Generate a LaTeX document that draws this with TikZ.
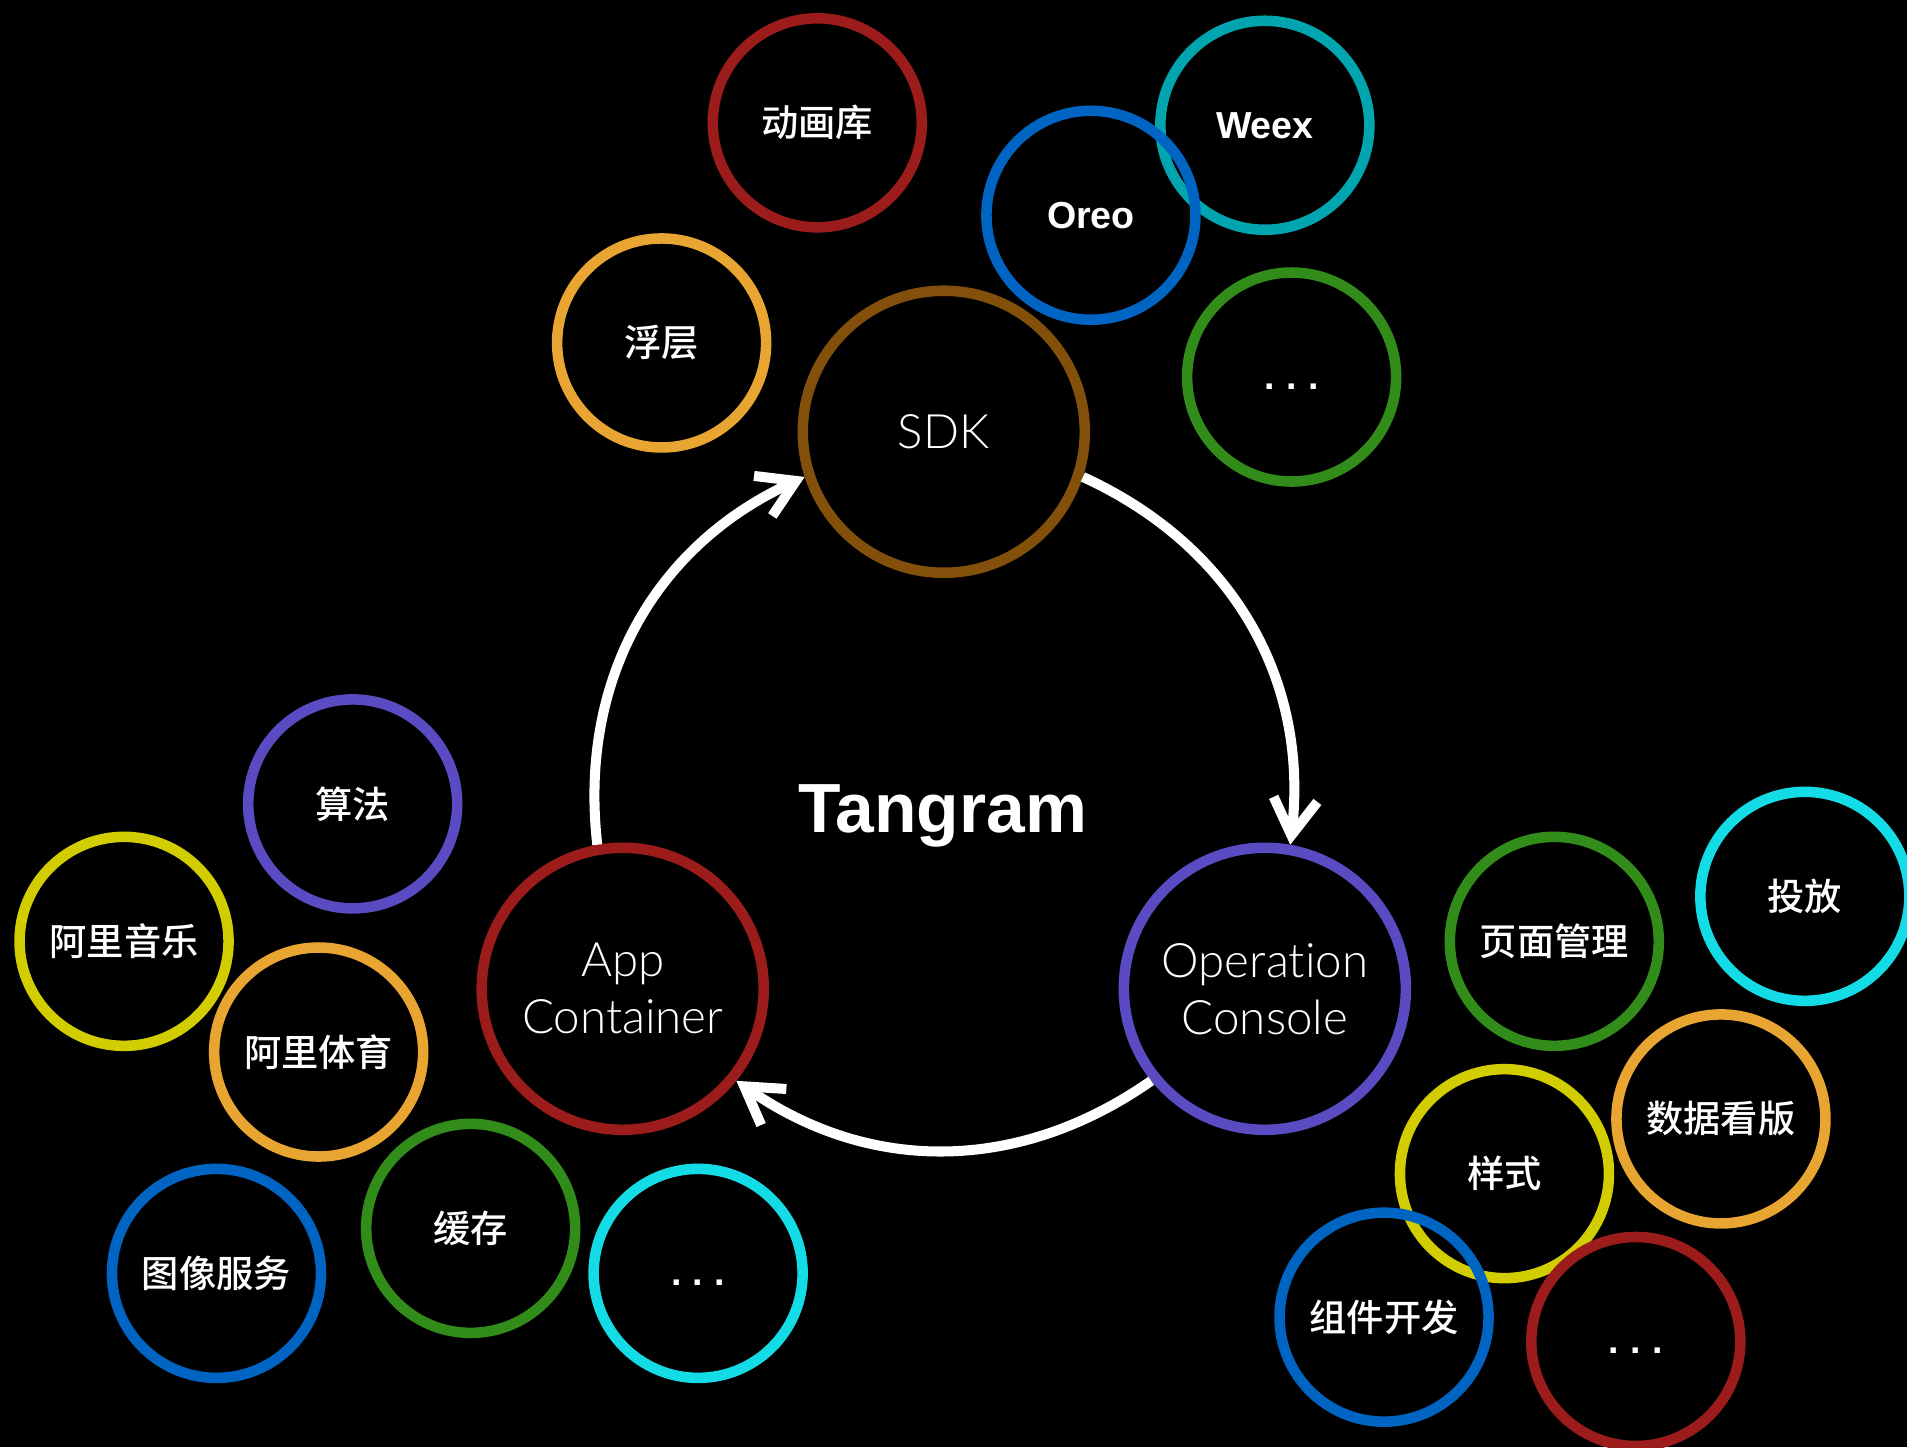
\documentclass[tikz,border=0pt]{standalone}
\usepackage{fontspec}
\setmainfont{Liberation Sans}
\newfontfamily\cjkfont{Noto Sans CJK SC Medium}
\newfontfamily\thinfont{Lato Light}[Ligatures={NoCommon}]
\usetikzlibrary{arrows.meta}
\definecolor{ringred}{RGB}{156,28,28}
\definecolor{ringteal}{RGB}{0,165,175}
\definecolor{ringblue}{RGB}{0,100,195}
\definecolor{ringorange}{RGB}{232,165,50}
\definecolor{ringbrown}{RGB}{130,80,10}
\definecolor{ringgreen}{RGB}{50,140,25}
\definecolor{ringpurple}{RGB}{90,75,195}
\definecolor{ringyellow}{RGB}{210,205,0}
\definecolor{ringcyan}{RGB}{20,220,230}
\tikzset{
  ring/.style={circle, draw, line width=3pt, minimum size=2.09cm, inner sep=0pt, text=white,
    font=\cjkfont\fontsize{10.6pt}{12pt}\selectfont},
  word/.style={ring, font=\bfseries\fontsize{10.7pt}{12pt}\selectfont},
  more/.style={word, text height=7pt, text depth=0pt},
  hub/.style={ring, minimum size=2.82cm, align=center, font=\thinfont\fontsize{13.5pt}{16.2pt}\selectfont},
  flow/.style={draw=white, line width=2.85pt, -{Straight Barb[length=3.6mm,width=4.4mm]}},
}
\newcommand{\moredots}{.\hspace{3.2pt}.\hspace{3.2pt}.}
\begin{document}
\begin{tikzpicture}[x=0.012162cm, y=-0.012162cm]
\fill[black] (0,0) rectangle (1568,1190);
\useasboundingbox (0,0) rectangle (1568,1190);

% core
\node[hub, draw=ringbrown] (sdk) at (776,355) {SDK};
\node[hub, draw=ringred] (app) at (512,813) {App\\Container};
\node[hub, draw=ringpurple] (op) at (1040,813) {Operation\\Console};
\node[text=white, font=\bfseries\fontsize{19.8pt}{22pt}\selectfont] (tangram) at (775,671) {Tangram};

\draw[flow] (sdk.-18) to[bend left=36] (op.80);
\draw[flow] (op.219) to[bend left=35] (app.-39);
\draw[flow] (app.100) to[bend left=36] (sdk.198);

% around SDK
\node[ring, draw=ringred] (anim) at (672,101) {动画库};
\node[word, draw=ringteal] (weex) at (1040,103) {Weex};
\node[word, draw=ringblue] (oreo) at (897,177) {Oreo};
\node[ring, draw=ringorange] (layer) at (544,282) {浮层};
\node[more, draw=ringgreen] (moretop) at (1062,310) {\moredots};

% around App Container
\node[ring, draw=ringpurple] (algo) at (290,661) {算法};
\node[ring, draw=ringyellow] (music) at (102,774) {阿里音乐};
\node[ring, draw=ringorange] (sports) at (262,865) {阿里体育};
\node[ring, draw=ringblue] (image) at (178,1047) {图像服务};
\node[ring, draw=ringgreen] (cache) at (387,1010) {缓存};
\node[more, draw=ringcyan] (moreleft) at (574,1047) {\moredots};

% around Operation Console
\node[ring, draw=ringgreen] (pages) at (1278,774) {页面管理};
\node[ring, draw=ringcyan] (deliver) at (1484,737) {投放};
\node[ring, draw=ringorange] (board) at (1415,920) {数据看版};
\node[ring, draw=ringyellow] (style) at (1237,965) {样式};
\node[ring, draw=ringblue] (widget) at (1138,1083) {组件开发};
\node[more, draw=ringred] (moreright) at (1345,1103) {\moredots};
\end{tikzpicture}
\end{document}
